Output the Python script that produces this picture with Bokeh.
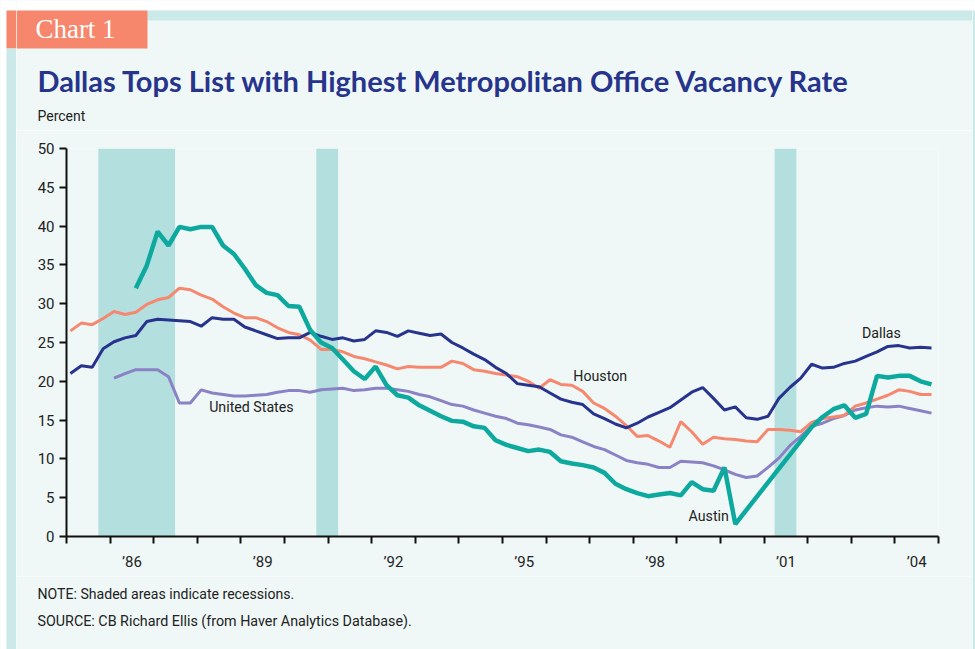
from bokeh.plotting import figure
from bokeh.layouts import row, column
from bokeh.models import Range1d, FixedTicker, Label, ColumnDataSource
from bokeh.embed import file_html
from bokeh.resources import INLINE

# ---------------- data (quarterly, 1985Q1 - 2004Q4) ----------------
first_year = 1985
n_quarters = 80

dallas = [
    21.0, 22.0, 21.8, 24.2, 25.1, 25.6, 25.9, 27.7, 28.0, 27.9,
    27.8, 27.7, 27.1, 28.2, 28.0, 28.0, 27.0, 26.5, 26.0, 25.5,
    25.6, 25.6, 26.3, 25.8, 25.4, 25.6, 25.2, 25.4, 26.5, 26.3,
    25.8, 26.5, 26.2, 25.9, 26.1, 25.0, 24.3, 23.5, 22.8, 21.8,
    21.0, 19.7, 19.5, 19.3, 18.5, 17.7, 17.3, 17.0, 15.8, 15.2,
    14.5, 14.0, 14.6, 15.4, 16.0, 16.6, 17.6, 18.6, 19.2, 17.8,
    16.3, 16.7, 15.3, 15.1, 15.5, 17.8, 19.2, 20.4, 22.2, 21.7,
    21.8, 22.3, 22.6, 23.2, 23.8, 24.5, 24.6, 24.3, 24.4, 24.3,
]

houston = [
    26.5, 27.5, 27.3, 28.1, 29.0, 28.6, 28.9, 29.9, 30.5, 30.8,
    32.0, 31.8, 31.1, 30.6, 29.6, 28.8, 28.2, 28.2, 27.7, 26.9,
    26.3, 26.0, 25.3, 24.1, 24.1, 23.8, 23.2, 22.9, 22.5, 22.1,
    21.6, 21.9, 21.8, 21.8, 21.8, 22.6, 22.3, 21.5, 21.3, 21.0,
    20.8, 20.6, 20.0, 19.1, 20.2, 19.6, 19.5, 18.7, 17.2, 16.5,
    15.5, 14.3, 12.9, 13.0, 12.3, 11.5, 14.8, 13.5, 11.9, 12.8,
    12.6, 12.5, 12.3, 12.2, 13.8, 13.8, 13.7, 13.5, 14.7, 15.2,
    15.4, 15.6, 16.8, 17.2, 17.7, 18.2, 18.9, 18.7, 18.3, 18.3,
]

austin = [None] * 6 + [
    32.0, 34.9, 39.3, 37.5, 39.9, 39.6, 39.9, 39.9, 37.5, 36.4,
    34.5, 32.4, 31.4, 31.1, 29.7, 29.6, 26.6, 25.0, 24.3, 22.8,
    21.3, 20.3, 21.9, 19.5, 18.2, 17.9, 16.9, 16.2, 15.5, 14.9,
    14.8, 14.2, 14.0, 12.4, 11.8, 11.4, 11.0, 11.2, 10.9, 9.7,
    9.4, 9.2, 8.9, 8.2, 6.8, 6.1, 5.6, 5.2, 5.4, 5.6,
    5.3, 7.0, 6.1, 5.9, 8.9, 1.6,
] + [None] * 6 + [
    14.1, 15.4, 16.4, 16.9, 15.3, 15.8, 20.7, 20.5, 20.7, 20.7, 20.0, 19.6,
]

united_states = [None] * 4 + [
    20.4, 21.0, 21.5, 21.5, 21.5, 20.6, 17.2, 17.2, 18.9, 18.5,
    18.3, 18.1, 18.1, 18.2, 18.3, 18.6, 18.8, 18.8, 18.6, 18.9,
    19.0, 19.1, 18.8, 18.9, 19.1, 19.1, 18.9, 18.7, 18.3, 18.0,
    17.5, 17.0, 16.8, 16.3, 15.9, 15.5, 15.2, 14.6, 14.4, 14.1,
    13.8, 13.1, 12.8, 12.2, 11.6, 11.2, 10.5, 9.8, 9.5, 9.3,
    8.9, 8.9, 9.7, 9.6, 9.5, 9.1, 8.6, 8.0, 7.6, 7.8,
    8.9, 10.1, 11.7, 12.9, 14.2, 14.6, 15.2, 15.6, 16.3, 16.6,
    16.8, 16.7, 16.8, 16.5, 16.2, 15.9,
]

recession_start = [1985.73, 1990.73, 2001.24]
recession_end = [1987.49, 1991.23, 2001.74]

year_ticks = list(range(1985, 2006))
label_years = [1986, 1989, 1992, 1995, 1998, 2001, 2004]
label_texts = ["\u201986", "\u201989", "\u201992", "\u201995", "\u201998", "\u201901", "\u201904"]
percent_ticks = list(range(0, 51, 5))

x_quarters = [first_year + 0.09 + k / 4 for k in range(n_quarters)]


def series_source(values):
    xs = [x for x, v in zip(x_quarters, values) if v is not None]
    ys = [v for v in values if v is not None]
    return ColumnDataSource(data=dict(x=xs, y=ys))


# ---------------- styling ----------------
W, H = 975, 649
LSTRIP = 16          # left decorative strip width
RSTRIP = 3           # right decorative strip width
HEAD_H = 130
MAIN_H = 446
FOOT_H = H - HEAD_H - MAIN_H
INNER_R = W - RSTRIP

BG = "#EFF8F7"
BAND = "#CBE9E8"
TAB = "#F6866C"
NAVY = "#27338D"
SALMON = "#F5886F"
TEAL = "#0DA99E"
LAVENDER = "#8A82C4"
SHADE = "#B3DFDF"
TXT_FONT = "Roboto"
TXT_COLOR = "#222222"


def canvas_fig(x0, x1, y0, y1):
    """A figure whose frame fills its canvas, ranged in page pixels (y down)."""
    f = figure(width=x1 - x0, height=y1 - y0, output_backend="svg",
               toolbar_location=None, x_axis_location=None, y_axis_location=None,
               x_range=Range1d(x0, x1), y_range=Range1d(y1, y0),
               min_border=0, min_border_left=0, min_border_right=0,
               min_border_top=0, min_border_bottom=0)
    f.background_fill_color = BG
    f.border_fill_color = BG
    f.outline_line_color = None
    f.xgrid.visible = False
    f.ygrid.visible = False
    return f


def box(f, l, r, t, b, color):
    f.quad(left=l, right=r, top=t, bottom=b, fill_color=color, line_color=None)


def text(f, x, y, s, **kw):
    f.add_layout(Label(x=x, y=y, text=s, **kw))


# left strip
lstrip = canvas_fig(0, LSTRIP, 0, H)
box(lstrip, 0, 6, 0, H, "white")
box(lstrip, 6, LSTRIP, 0, 10, "white")
box(lstrip, 6, LSTRIP, 10, 48, TAB)
box(lstrip, 6, LSTRIP, 48, H, BAND)

# right strip
rstrip = canvas_fig(INNER_R, W, 0, H)
box(rstrip, INNER_R, W, 0, 10, "white")
box(rstrip, INNER_R, W, 10, H, BAND)

# header
head = canvas_fig(LSTRIP, INNER_R, 0, HEAD_H)
box(head, LSTRIP, INNER_R, 0, 10, "white")
box(head, 147, INNER_R, 10, 20, BAND)
box(head, LSTRIP, 147, 10, 48, TAB)
text(head, 75, 28, "Chart 1", text_font="Liberation Serif", text_font_size="27px",
     text_color="white", text_align="center", text_baseline="alphabetic")
text(head, 37, 80, "Dallas Tops List with Highest Metropolitan Office Vacancy Rate",
     text_font="Lato", text_font_style="bold", text_font_size="29px",
     text_color="#27348B", text_baseline="alphabetic")
text(head, 37, 115, "Percent", text_font=TXT_FONT, text_font_size="14px",
     text_color=TXT_COLOR, text_baseline="middle")

# footer
foot = canvas_fig(LSTRIP, INNER_R, HEAD_H + MAIN_H, H)
text(foot, 37, 593, "NOTE: Shaded areas indicate recessions.", text_font=TXT_FONT,
     text_font_size="14.1px", text_color=TXT_COLOR, text_baseline="middle")
text(foot, 37, 620, "SOURCE: CB Richard Ellis (from Haver Analytics Database).",
     text_font=TXT_FONT, text_font_size="14.3px", text_color=TXT_COLOR,
     text_baseline="middle")

# ---------------- main chart ----------------
FL, FR, FT, FB = 66, 938, 148, 536     # frame edges on the page
p = figure(width=INNER_R - LSTRIP, height=MAIN_H, output_backend="svg",
           toolbar_location=None,
           x_range=Range1d(1985, 2005), y_range=Range1d(0, 50),
           min_border_left=FL - LSTRIP, min_border_right=INNER_R - FR,
           min_border_top=FT - HEAD_H, min_border_bottom=HEAD_H + MAIN_H - FB)
p.background_fill_color = BG
p.border_fill_color = BG
p.outline_line_color = None
p.xgrid.visible = False
p.ygrid.visible = False

p.quad(left=recession_start, right=recession_end, bottom=0, top=50,
       fill_color=SHADE, line_color=None)

p.line("x", "y", source=series_source(united_states), color=LAVENDER, line_width=3)
p.line("x", "y", source=series_source(houston), color=SALMON, line_width=3)
p.line("x", "y", source=series_source(dallas), color=NAVY, line_width=3)
p.line("x", "y", source=series_source(austin), color=TEAL, line_width=4.5)

xa = p.xaxis[0]
xa.ticker = FixedTicker(ticks=[y + 0.5 for y in label_years], minor_ticks=year_ticks)
xa.major_label_overrides = {y + 0.5: t for y, t in zip(label_years, label_texts)}
xa.major_tick_out = 0
xa.major_tick_in = 0
xa.minor_tick_out = 7
xa.minor_tick_in = 0
xa.minor_tick_line_width = 2
xa.minor_tick_line_color = "#111111"
xa.axis_line_width = 2
xa.axis_line_color = "#111111"
xa.major_label_standoff = 9
xa.major_label_text_font = TXT_FONT
xa.major_label_text_font_size = "15px"
xa.major_label_text_color = TXT_COLOR

ya = p.yaxis[0]
ya.ticker = FixedTicker(ticks=percent_ticks, minor_ticks=[])
ya.major_tick_out = 7
ya.major_tick_in = 0
ya.major_tick_line_width = 2
ya.major_tick_line_color = "#111111"
ya.axis_line_width = 2
ya.axis_line_color = "#111111"
ya.major_label_standoff = 5
ya.major_label_text_font = TXT_FONT
ya.major_label_text_font_size = "15px"
ya.major_label_text_color = TXT_COLOR

for x, y, t in [(2003.69, 26.2, "Dallas"), (1997.24, 20.66, "Houston"),
                (1989.24, 16.75, "United States"), (1999.73, 2.7, "Austin")]:
    p.add_layout(Label(x=x, y=y, text=t, text_font=TXT_FONT, text_font_size="14.2px",
                       text_color=TXT_COLOR, text_align="center", text_baseline="middle"))

layout = row(lstrip, column(head, row(p, spacing=0), foot, spacing=0), rstrip, spacing=0)

open("out.html", "w").write(file_html(layout, INLINE))
